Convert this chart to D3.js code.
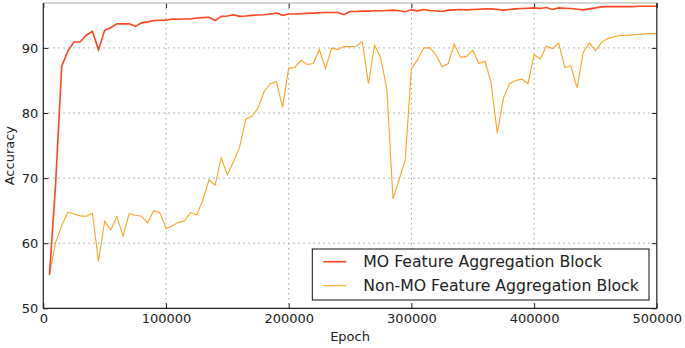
<!DOCTYPE html>
<html>
<head>
<meta charset="utf-8">
<script src="https://cdn.jsdelivr.net/npm/d3@7"></script>
<style>
  body { margin: 0; background: #fff; }
  text { font-family: "DejaVu Sans", sans-serif; fill: #222; }
</style>
</head>
<body>
<div id="chart"></div>
<script>

// accuracy values, one every 5000 epochs (5000 .. 500000)
var mo_acc = [
  55.1, 69.0, 87.2, 89.5, 90.9, 90.9, 91.95, 92.55, 89.7, 92.7,
  93.1, 93.7, 93.7, 93.7, 93.3, 93.85, 94.0, 94.2, 94.25, 94.25,
  94.45, 94.4, 94.45, 94.45, 94.6, 94.65, 94.7, 94.2, 94.85, 94.9,
  95.1, 94.85, 94.9, 95.0, 95.05, 95.1, 95.2, 95.35, 95.0, 95.2,
  95.2, 95.25, 95.3, 95.35, 95.4, 95.45, 95.45, 95.45, 95.1, 95.6,
  95.6, 95.65, 95.65, 95.7, 95.7, 95.75, 95.8, 95.7, 95.55, 95.85,
  95.7, 95.9, 95.75, 95.7, 95.6, 95.8, 95.85, 95.9, 95.85, 95.9,
  95.95, 96.0, 96.0, 95.9, 95.8, 95.9, 96.0, 96.05, 96.1, 96.15,
  96.05, 96.2, 95.9, 96.15, 96.1, 96.05, 95.95, 95.85, 96.0, 96.15,
  96.3, 96.35, 96.35, 96.35, 96.35, 96.35, 96.4, 96.4, 96.4, 96.4
];

var non_mo_acc = [
  55.2, 60.1, 62.7, 64.75, 64.5, 64.2, 64.15, 64.6, 57.2, 63.4,
  62.05, 64.1, 61.05, 64.55, 64.3, 64.15, 63.1, 65.0, 64.7, 62.3,
  62.65, 63.2, 63.4, 64.7, 64.35, 66.6, 69.75, 68.9, 73.1, 70.5,
  72.5, 74.8, 79.05, 79.5, 80.75, 83.3, 84.5, 84.8, 80.9, 86.9,
  87.0, 88.1, 87.45, 87.6, 89.75, 86.8, 90.0, 89.75, 90.2, 90.2,
  90.25, 91.0, 84.5, 90.45, 88.45, 83.6, 66.8, 69.75, 72.8, 86.8,
  88.2, 90.0, 90.05, 88.95, 87.1, 87.6, 90.6, 88.55, 88.7, 89.65,
  87.6, 87.95, 84.6, 76.9, 82.3, 84.5, 85.0, 85.2, 84.5, 88.95,
  88.3, 90.25, 89.9, 90.75, 87.0, 87.25, 83.85, 89.3, 90.75, 89.6,
  90.85, 91.45, 91.7, 91.9, 91.95, 92.0, 92.05, 92.15, 92.2, 92.2
];

var epoch_step = 5000;
var x_ticks = [0, 100000, 200000, 300000, 400000, 500000];
var y_ticks = [50, 60, 70, 80, 90];
var series_names = ["MO Feature Aggregation Block", "Non-MO Feature Aggregation Block"];
var series_colors = ["#ff4522", "#ffa323"];

// set margins and dimensions of graph
var margin = {top: 3, right: 28.2, bottom: 39.7, left: 43.3},
    width = 685 - margin.left - margin.right,
    height = 348 - margin.top - margin.bottom;

var svg = d3.select("#chart")
  .append("svg")
  .attr("width", 685)
  .attr("height", 348)
.append("g")
  .attr("transform", "translate(" + margin.left + "," + margin.top + ")");

var x = d3.scaleLinear()
  .domain([0, 500000])
  .range([0, width]);

var y = d3.scaleLinear()
  .domain([50, 96.9])
  .range([height, 0]);

// dotted grid
svg.selectAll("xgrid")
  .data(x_ticks.slice(1, -1))
  .enter()
  .append("line")
    .attr("x1", function(d) { return x(d); })
    .attr("x2", function(d) { return x(d); })
    .attr("y1", 0)
    .attr("y2", height)
    .attr("stroke", "#a0a0a0")
    .attr("stroke-dasharray", "1.5,3.5");

svg.selectAll("ygrid")
  .data(y_ticks.slice(1))
  .enter()
  .append("line")
    .attr("x1", 0)
    .attr("x2", width)
    .attr("y1", function(d) { return y(d); })
    .attr("y2", function(d) { return y(d); })
    .attr("stroke", "#a0a0a0")
    .attr("stroke-dasharray", "1.5,3.5");

// axes with inward ticks
var xAxis = svg.append("g")
  .attr("transform", "translate(0," + height + ")")
  .call(d3.axisBottom(x).tickValues(x_ticks).tickFormat(d3.format("d"))
        .tickSizeInner(-5).tickSizeOuter(0).tickPadding(5));

var yAxis = svg.append("g")
  .call(d3.axisLeft(y).tickValues(y_ticks)
        .tickSizeInner(-5).tickSizeOuter(0).tickPadding(5));

var topAxis = svg.append("g")
  .call(d3.axisTop(x).tickValues(x_ticks).tickFormat("")
        .tickSizeInner(-5).tickSizeOuter(0));

var rightAxis = svg.append("g")
  .attr("transform", "translate(" + width + ",0)")
  .call(d3.axisRight(y).tickValues(y_ticks).tickFormat("")
        .tickSizeInner(-5).tickSizeOuter(0));

[xAxis, yAxis, topAxis, rightAxis].forEach(function(a) {
  a.select(".domain").remove();
  a.selectAll("line").attr("stroke", "#222");
  a.selectAll("text").style("font-size", "13px").attr("fill", "#222");
});

// lines
var line = d3.line()
  .x(function(d, i) { return x((i + 1) * epoch_step); })
  .y(function(d) { return y(d); });

svg.append("path")
  .datum(non_mo_acc)
  .attr("fill", "none")
  .attr("stroke", series_colors[1])
  .attr("stroke-width", 1.1)
  .attr("d", line);

svg.append("path")
  .datum(mo_acc)
  .attr("fill", "none")
  .attr("stroke", series_colors[0])
  .attr("stroke-width", 1.6)
  .attr("d", line);

// spines
svg.append("line")
  .attr("x1", 0).attr("x2", width).attr("y1", 0).attr("y2", 0)
  .attr("stroke", "#c8c8c8").attr("stroke-width", 1.5);
svg.append("line")
  .attr("x1", 0).attr("x2", 0).attr("y1", 0).attr("y2", height)
  .attr("stroke", "#222").attr("stroke-width", 1.2);
svg.append("line")
  .attr("x1", width).attr("x2", width).attr("y1", 0).attr("y2", height)
  .attr("stroke", "#222").attr("stroke-width", 1.2);
svg.append("line")
  .attr("x1", 0).attr("x2", width).attr("y1", height).attr("y2", height)
  .attr("stroke", "#222").attr("stroke-width", 1.2);

// axis labels
svg.append("text")
  .attr("x", width / 2)
  .attr("y", height + 33)
  .attr("text-anchor", "middle")
  .style("font-size", "13px")
  .text("Epoch");

svg.append("text")
  .attr("transform", "translate(" + (-29) + "," + (height / 2) + ")rotate(-90)")
  .attr("text-anchor", "middle")
  .style("font-size", "13px")
  .text("Accuracy");

// legend
var legend = svg.append("g")
  .attr("transform", "translate(" + (312.3 - margin.left) + "," + (249 - margin.top) + ")");

legend.append("rect")
  .attr("width", 336.7)
  .attr("height", 51)
  .attr("fill", "#fff")
  .attr("stroke", "#111")
  .attr("stroke-width", 1);

legend.selectAll("legline")
  .data(series_names)
  .enter()
  .append("line")
    .attr("x1", 11)
    .attr("x2", 34)
    .attr("y1", function(d, i) { return 12.7 + i * 24; })
    .attr("y2", function(d, i) { return 12.7 + i * 24; })
    .attr("stroke", function(d, i) { return series_colors[i]; })
    .attr("stroke-width", function(d, i) { return i == 0 ? 1.6 : 1.1; });

legend.selectAll("leglabel")
  .data(series_names)
  .enter()
  .append("text")
    .attr("x", 51)
    .attr("y", function(d, i) { return 12.7 + i * 24; })
    .attr("dy", "0.36em")
    .style("font-size", "15.7px")
    .text(function(d) { return d; });

</script>
</body>
</html>
